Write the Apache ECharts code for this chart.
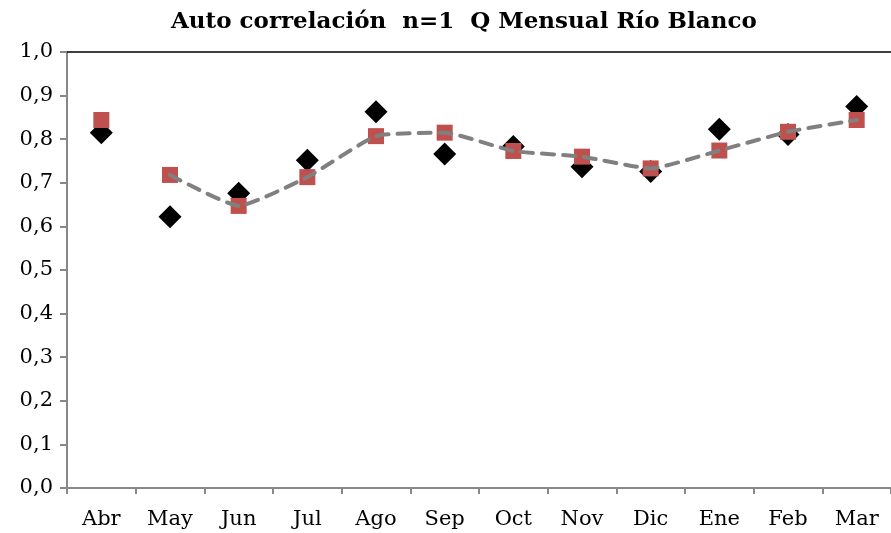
<!DOCTYPE html>
<html>
<head>
    <meta charset="UTF-8">
    <title>Auto correlación</title>
    <script type="text/javascript" src="https://cdn.jsdelivr.net/npm/echarts@6/dist/echarts.min.js"></script>
    <style>
        html, body { margin: 0; padding: 0; background: #fff; }
        #chart { width: 891px; height: 533px; }
    </style>
</head>
<body>
<div id="chart"></div>
<script type="text/javascript">
    var meses = ['Abr', 'May', 'Jun', 'Jul', 'Ago', 'Sep', 'Oct', 'Nov', 'Dic', 'Ene', 'Feb', 'Mar'];
    // rombos negros
    var observado = [0.815, 0.622, 0.676, 0.752, 0.863, 0.766, 0.783, 0.737, 0.726, 0.823, 0.811, 0.875];
    // cuadrados rojos
    var calculado = [0.844, 0.718, 0.647, 0.713, 0.807, 0.815, 0.773, 0.760, 0.733, 0.774, 0.817, 0.844];
    // linea segmentada (sin Abr)
    var tendencia = [null, 0.718, 0.647, 0.713, 0.807, 0.815, 0.773, 0.760, 0.733, 0.774, 0.817, 0.844];
    var yTicks = ['0,0', '0,1', '0,2', '0,3', '0,4', '0,5', '0,6', '0,7', '0,8', '0,9', '1,0'];

    var myChart = echarts.init(document.getElementById('chart'));
    var fuente = 'DejaVu Serif';

    var option = {
        animation: false,
        title: {
            text: 'Auto correlación  n=1  Q Mensual Río Blanco',
            left: 166,
            top: 6,
            textStyle: { fontFamily: fuente, fontSize: 23, fontWeight: 'bold', color: '#000' }
        },
        grid: { left: 67, right: -10, top: 52, bottom: 45 },
        xAxis: [{
            type: 'category',
            data: meses,
            boundaryGap: true,
            axisLine: { lineStyle: { color: '#888', width: 2 } },
            axisTick: { show: true, length: 6, lineStyle: { color: '#888', width: 2 } },
            axisLabel: { fontFamily: fuente, fontSize: 21, color: '#000', margin: 21 }
        }, {
            type: 'category',
            data: meses,
            position: 'top',
            axisLine: { lineStyle: { color: '#000', width: 1.5 } },
            axisTick: { show: false },
            axisLabel: { show: false }
        }],
        yAxis: {
            type: 'value',
            min: 0,
            max: 1,
            interval: 0.1,
            axisLine: { show: true, lineStyle: { color: '#888', width: 2 } },
            axisTick: { show: true, length: 7, lineStyle: { color: '#888', width: 2 } },
            splitLine: { show: false },
            axisLabel: {
                fontFamily: fuente, fontSize: 21, color: '#000', margin: 14,
                formatter: function (v) { return yTicks[Math.round(v * 10)]; }
            }
        },
        series: [
            {
                name: 'tendencia',
                type: 'line',
                data: tendencia,
                smooth: 0.15,
                symbol: 'none',
                lineStyle: { color: '#808080', width: 4, type: [12, 9], cap: 'round' },
                z: 3
            },
            {
                name: 'observado',
                type: 'scatter',
                data: observado,
                symbol: 'diamond',
                symbolSize: [23, 23],
                itemStyle: { color: '#000', opacity: 1 },
                z: 2
            },
            {
                name: 'calculado',
                type: 'scatter',
                data: calculado,
                symbol: 'rect',
                symbolSize: 16,
                itemStyle: { color: '#C0504D', opacity: 1 },
                z: 2
            }
        ]
    };
    option && myChart.setOption(option);
</script>
</body>
</html>
